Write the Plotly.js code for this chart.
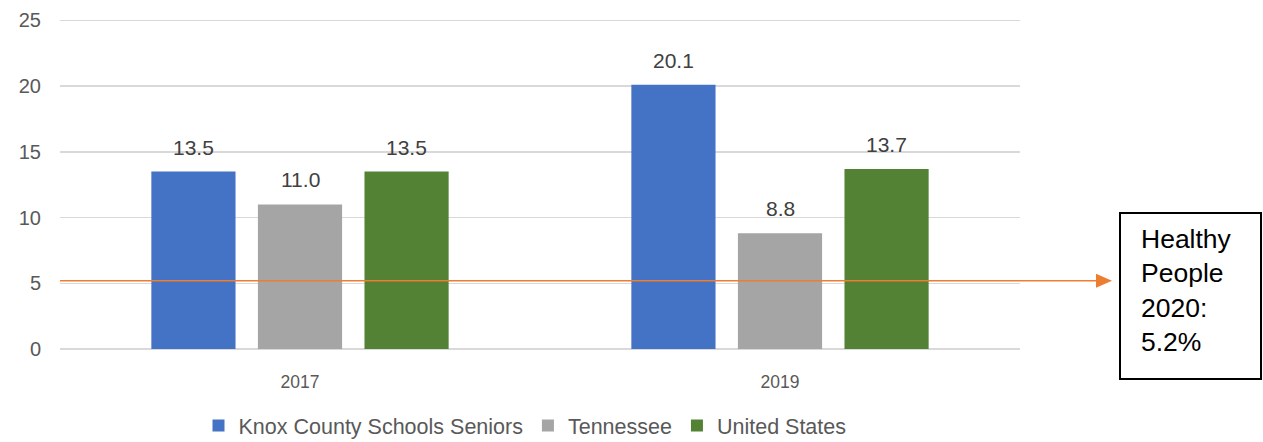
<!DOCTYPE html>
<html><head><meta charset="utf-8">
<script src="https://cdn.plot.ly/plotly-3.0.1.min.js"></script>
<style>html,body{margin:0;padding:0;background:#fff}#chart{width:1263px;height:442px}</style>
</head><body><div id="chart"></div>
<script>
const years = ["2017", "2019"];
const seriesNames = ["Knox County Schools Seniors", "Tennessee", "United States"];
const knox = [13.5, 20.1];
const tennessee = [11.0, 8.8];
const unitedStates = [13.5, 13.7];
const targetValue = 5.2;
const targetLabel = "Healthy<br>People<br>2020:<br>5.2%";
const yTicks = [0, 5, 10, 15, 20, 25];

const colors = ["#4472c4", "#a5a5a5", "#548235"];
const allSeries = [knox, tennessee, unitedStates];

const traces = allSeries.map((vals, i) => ({
  type: "bar", x: years, y: vals, name: seriesNames[i],
  marker: {color: colors[i]}, hoverinfo: "skip"
}));

const slotPx = 106.5;
const annotations = [];
allSeries.forEach((vals, i) => {
  vals.forEach((v, j) => {
    annotations.push({
      x: j, y: v, xref: "x", yref: "y", text: v.toFixed(1),
      showarrow: false, xshift: (i - 1) * slotPx, yshift: 11, yanchor: "bottom",
      font: {family: "Liberation Sans, Arial, sans-serif", size: 21, color: "#404040"}
    });
  });
});

const T = 19, B = 93, PH = 442 - T - B;
const YMAX = 25.1;
const px = p => (p - 60) / 960;
const py = p => 1 - (p - T) / PH;
const unitPx = PH / YMAX;

annotations.push({
  x: px(1139), y: py(222), xref: "paper", yref: "paper",
  xanchor: "left", yanchor: "top", align: "left", showarrow: false,
  text: targetLabel,
  font: {family: "Liberation Sans, Arial, sans-serif", size: 26.5, color: "#000"}
});

const half = 7 / unitPx;
const shapes = [
  {type: "line", xref: "paper", yref: "y", x0: 0, x1: px(1097), y0: targetValue, y1: targetValue,
   line: {color: "#ed7d31", width: 1.5}},
  {type: "path", xref: "paper", yref: "y",
   path: `M ${px(1096)} ${targetValue + half} L ${px(1112)} ${targetValue} L ${px(1096)} ${targetValue - half} Z`,
   fillcolor: "#ed7d31", line: {width: 0}},
  {type: "rect", xref: "paper", yref: "paper", x0: px(1120), x1: px(1261), y0: py(213), y1: py(379),
   line: {color: "#000", width: 2}, fillcolor: "rgba(0,0,0,0)"}
];

const layout = {
  width: 1263, height: 442,
  margin: {l: 60, r: 243, t: T, b: B, autoexpand: false},
  paper_bgcolor: "#fff", plot_bgcolor: "#fff",
  barmode: "group", bargap: 0.334, bargroupgap: 0.21,
  showlegend: true,
  legend: {orientation: "h", x: (525 - 60) / 960, xanchor: "center", y: -(446 - 349) / PH, yanchor: "bottom",
           font: {family: "Liberation Sans, Arial, sans-serif", size: 21.5, color: "#595959"},
           traceorder: "normal"},
  xaxis: {type: "category", range: [-0.5, 1.5], autorange: false, showgrid: false, showline: false, ticks: "",
          tickfont: {family: "Liberation Sans, Arial, sans-serif", size: 17.5, color: "#595959"},
          ticklabelstandoff: 20},
  yaxis: {range: [0, YMAX], autorange: false, tickvals: yTicks, showgrid: true, gridcolor: "#d9d9d9", gridwidth: 1.5,
          zeroline: true, zerolinecolor: "#d9d9d9", zerolinewidth: 1.5, showline: false, ticks: "",
          tickfont: {family: "Liberation Sans, Arial, sans-serif", size: 20, color: "#595959"},
          ticklabelstandoff: 18},
  annotations: annotations, shapes: shapes
};

Plotly.newPlot("chart", traces, layout, {displayModeBar: false, staticPlot: true});
</script></body></html>
